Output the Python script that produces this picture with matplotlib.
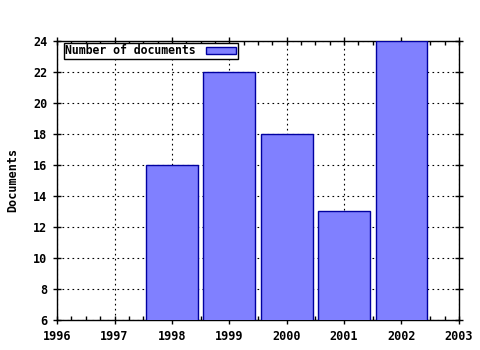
import matplotlib
matplotlib.use("Agg")
import matplotlib.pyplot as plt
from matplotlib.ticker import MultipleLocator

# data
years = [1998, 1999, 2000, 2001, 2002]
docs = [16, 22, 18, 13, 24]
xticks = [1996, 1997, 1998, 1999, 2000, 2001, 2002, 2003]
yticks = [6, 8, 10, 12, 14, 16, 18, 20, 22, 24]

plt.rcParams['font.family'] = 'DejaVu Sans Mono'
plt.rcParams['font.weight'] = 'bold'
plt.rcParams['font.size'] = 8.5

fig = plt.figure(figsize=(4.8, 3.5), dpi=100)
ax = fig.add_axes([0.119, 0.086, 0.837, 0.797])

ax.bar(years, docs, width=0.9, color='#8080ff', edgecolor='#0000a0',
       linewidth=1, label='Number of documents', zorder=3)

ax.set_xlim(1996, 2003)
ax.set_ylim(6, 24)
ax.set_xticks(xticks)
ax.set_yticks(yticks)
ax.xaxis.set_minor_locator(MultipleLocator(0.25))
ax.tick_params(which='major', direction='inout', length=6, width=1,
               top=True, right=True, labelsize=8.5, pad=4)
ax.tick_params(which='minor', direction='in', length=3, width=1,
               top=True, bottom=True)
ax.grid(True, which='major', linestyle=(0, (1.5, 3)), color='black',
        linewidth=0.8, zorder=0)
for s in ax.spines.values():
    s.set_linewidth(1)

ax.set_ylabel('Documents', fontsize=8.5, fontweight='bold', labelpad=10)

leg = ax.legend(loc='upper left', markerfirst=False, fancybox=False,
                framealpha=1, edgecolor='black', borderpad=0.15,
                handlelength=2.6, handleheight=0.6, handletextpad=0.9,
                borderaxespad=0.15, bbox_to_anchor=(0.012, 1.0),
                prop={'weight': 'bold', 'size': 8.3})
leg.get_frame().set_linewidth(1)

fig.savefig('out.png', dpi=100)
